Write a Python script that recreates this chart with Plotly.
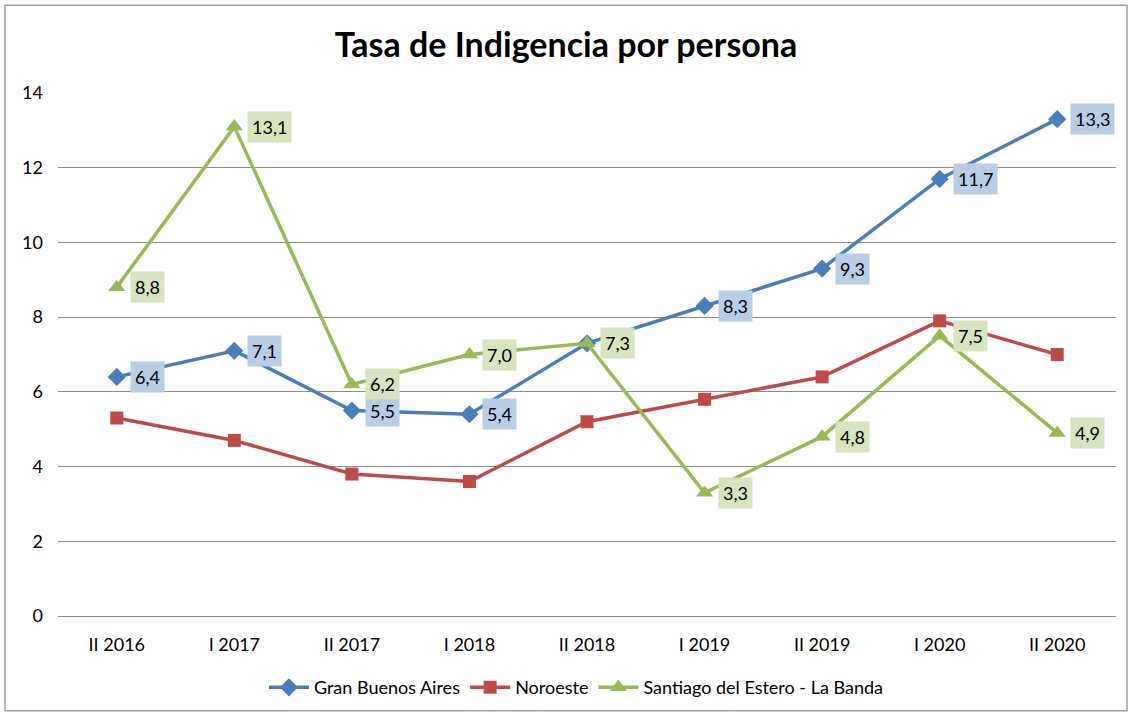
import plotly.graph_objects as go

categories = ["II 2016", "I 2017", "II 2017", "I 2018", "II 2018", "I 2019", "II 2019", "I 2020", "II 2020"]
gba = [6.4, 7.1, 5.5, 5.4, 7.3, 8.3, 9.3, 11.7, 13.3]
noroeste = [5.3, 4.7, 3.8, 3.6, 5.2, 5.8, 6.4, 7.9, 7.0]
santiago = [8.8, 13.1, 6.2, 7.0, 7.3, 3.3, 4.8, 7.5, 4.9]
gba_labeled = [True, True, True, True, False, True, True, True, True]
santiago_labeled = [True] * 9

FONT = "Lato, Open Sans, sans-serif"
fig = go.Figure()
series = [
    ("Gran Buenos Aires", gba, "#4A7EBB", "diamond", 14),
    ("Noroeste", noroeste, "#BE4B48", "square", 13),
    ("Santiago del Estero - La Banda", santiago, "#98B954", "triangle-up", 15),
]
for name, vals, col, sym, sz in series:
    fig.add_trace(go.Scatter(
        x=categories, y=vals, name=name, mode="lines+markers",
        line=dict(color=col, width=3.5),
        marker=dict(symbol=sym, size=sz, color=col),
    ))

def fmt(v):
    return f"{v:.1f}".replace(".", ",")

annotations = []
for vals, flags, bg in [(gba, gba_labeled, "#B9CDE5"), (santiago, santiago_labeled, "#D7E4BD")]:
    for c, v, f in zip(categories, vals, flags):
        if not f:
            continue
        annotations.append(dict(
            x=c, y=v, xref="x", yref="y", text=fmt(v), showarrow=False,
            xanchor="left", yanchor="middle", xshift=13,
            bgcolor=bg, borderpad=4,
            font=dict(family=FONT, size=18, color="#000000"),
        ))

fig.update_layout(
    width=1132, height=718,
    paper_bgcolor="white", plot_bgcolor="white",
    margin=dict(l=58, r=16, t=93, b=100),
    title=dict(text="<b>Tasa de Indigencia por persona</b>", x=0.5, xref="container",
               xanchor="center",
               y=1 - 45 / 718, yanchor="middle",
               font=dict(family=FONT, size=34, color="#000000")),
    font=dict(family=FONT, size=18, color="#000000"),
    showlegend=True,
    legend=dict(orientation="h", x=0.49, xanchor="center", y=-0.137, yanchor="middle",
                font=dict(family=FONT, size=18, color="#000000"), itemwidth=40),
    annotations=annotations,
    shapes=[dict(type="rect", xref="paper", yref="paper",
                 x0=-53 / 1058, x1=(1127 - 58) / 1058,
                 y0=(618 - 713) / 525, y1=(618 - 5) / 525,
                 line=dict(color="#A0A0A0", width=1.5), fillcolor="rgba(0,0,0,0)", layer="below")],
)
fig.update_xaxes(type="category", range=[-0.5, 8.5], showgrid=False, zeroline=False,
                 showline=False, ticks="", ticklabelstandoff=16,
                 tickfont=dict(family=FONT, size=18, color="#000000"))
fig.update_yaxes(range=[0, 14], dtick=2, showgrid=True, gridcolor="#8C8C8C", gridwidth=1,
                 zeroline=True, zerolinecolor="#8C8C8C", zerolinewidth=1,
                 showline=False, ticks="", ticklabelstandoff=14,
                 tickfont=dict(family=FONT, size=18, color="#000000"))

fig.write_html("out.html", config={"displayModeBar": False},
               post_script="document.body.style.margin='0';")
